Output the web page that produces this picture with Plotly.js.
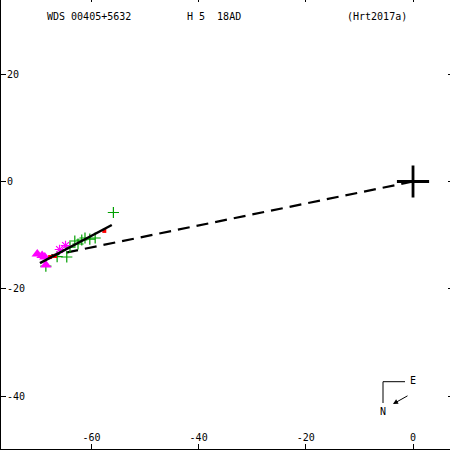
<!DOCTYPE html>
<html>
<head>
<meta charset="utf-8">
<script src="https://cdn.plot.ly/plotly-3.0.1.min.js"></script>
<style>
html,body{margin:0;padding:0;width:450px;height:450px;overflow:hidden;background:#fff;}
#plot{position:absolute;left:0;top:-3px;width:453px;height:453px;}
</style>
</head>
<body>
<div id="plot"></div>
<script>
// Observations (x = East offset, y = North offset, arcsec-like units)
const greenX = [-55.9, -64.6, -68.5, -66.4, -63.1, -61.8, -60.3, -61.2, -59.3, -62.5, -64.0];
const greenY = [-5.77, -14.06, -15.74, -13.97, -11.08, -10.89, -10.71, -10.52, -10.52, -11.64, -12.2];
const triX = [-70.1, -69.2, -68.7, -68.5];
const triY = [-13.5, -13.78, -14.06, -15.55];
const astX = [-65.95, -64.83];
const astY = [-12.66, -11.92];
const redX = [-67.7, -66.8, -57.6];
const redY = [-14.06, -13.87, -9.2];
const fitX = [-69.6, -56.2];
const fitY = [-15.18, -8.1];
const dashX = [0, -67.5];
const dashY = [0, -13.8];
const primaryX = [0];
const primaryY = [0];
const xTicks = [-60, -40, -20, 0];
const yTicks = [20, 0, -20, -40];
const titleLeft = "WDS 00405+5632";
const titleMid = "H 5\u00a0\u00a018AD";
const titleRight = "(Hrt2017a)";

const traces = [
  {x: dashX, y: dashY, mode: 'lines', line: {color: '#000', width: 2.2, dash: '12px,7px'}, hoverinfo: 'skip'},
  {x: greenX, y: greenY, mode: 'markers', marker: {symbol: 'cross-thin', size: 8, line: {color: '#00a000', width: 1.2}}},
  {x: triX, y: triY, mode: 'markers', marker: {symbol: 'triangle-up', size: 10, color: '#ff00ff', line: {width: 0}}},
  {x: astX, y: astY, mode: 'markers', marker: {symbol: 'asterisk', size: 8, line: {color: '#ff00ff', width: 1.2}}},
  {x: redX, y: redY, mode: 'markers', marker: {symbol: 'square', size: 4, color: '#ff0000', line: {width: 0}}},
  {x: fitX, y: fitY, mode: 'lines', line: {color: '#000', width: 2.5}},
  {x: primaryX, y: primaryY, mode: 'markers', marker: {symbol: 'cross-thin', size: 23, line: {color: '#000', width: 2.8}}}
];

const font = {family: 'DejaVu Sans Mono, monospace', size: 10, color: '#000'};

const layout = {
  width: 453, height: 453,
  margin: {l: 1, r: 0, t: 0, b: 1, pad: 0},
  paper_bgcolor: '#fff', plot_bgcolor: '#fff',
  showlegend: false,
  font: font,
  xaxis: {
    range: [-76.87, 7.46], tickvals: xTicks, ticktext: xTicks.map(String),
    ticks: 'inside', ticklen: 5, tickwidth: 1, tickcolor: '#000',
    showline: true, linecolor: '#000', linewidth: 2, mirror: 'ticks',
    showgrid: false, zeroline: false, ticklabelposition: 'inside',
    tickfont: font
  },
  yaxis: {
    range: [-49.81, 34.36], tickvals: yTicks, ticktext: yTicks.map(String),
    ticks: 'inside', ticklen: 5, tickwidth: 1, tickcolor: '#000',
    showline: true, linecolor: '#000', linewidth: 2, mirror: 'ticks',
    showgrid: false, zeroline: false, ticklabelposition: 'inside',
    tickfont: font
  },
  annotations: [
    {text: titleLeft, xref: 'paper', yref: 'paper', x: 44/452, y: (449-17)/452, xanchor: 'left', yanchor: 'middle', showarrow: false, font: font},
    {text: titleMid, xref: 'paper', yref: 'paper', x: 184/452, y: (449-17)/452, xanchor: 'left', yanchor: 'middle', showarrow: false, font: font},
    {text: titleRight, xref: 'paper', yref: 'paper', x: 344/452, y: (449-17)/452, xanchor: 'left', yanchor: 'middle', showarrow: false, font: font},
    {text: 'E', xref: 'paper', yref: 'paper', x: (412.5-1)/452, y: (449-380.5)/452, xanchor: 'center', yanchor: 'middle', showarrow: false, font: font},
    {text: 'N', xref: 'paper', yref: 'paper', x: (382.5-1)/452, y: (449-411)/452, xanchor: 'center', yanchor: 'middle', showarrow: false, font: font},
    {text: '', xref: 'paper', yref: 'paper', x: (393-1)/452, y: (449-404)/452, ax: 16, ay: -9, showarrow: true, arrowhead: 2, arrowsize: 1, arrowwidth: 1, arrowcolor: '#000'}
  ],
  shapes: [
    {type: 'line', xref: 'paper', yref: 'paper', x0: (383-1)/452, y0: (449-381.7)/452, x1: (405-1)/452, y1: (449-381.7)/452, line: {color: '#000', width: 1}},
    {type: 'line', xref: 'paper', yref: 'paper', x0: (383-1)/452, y0: (449-381.7)/452, x1: (383-1)/452, y1: (449-403)/452, line: {color: '#000', width: 1}}
  ]
};

Plotly.newPlot('plot', traces, layout, {staticPlot: true, displayModeBar: false});
</script>
</body>
</html>
